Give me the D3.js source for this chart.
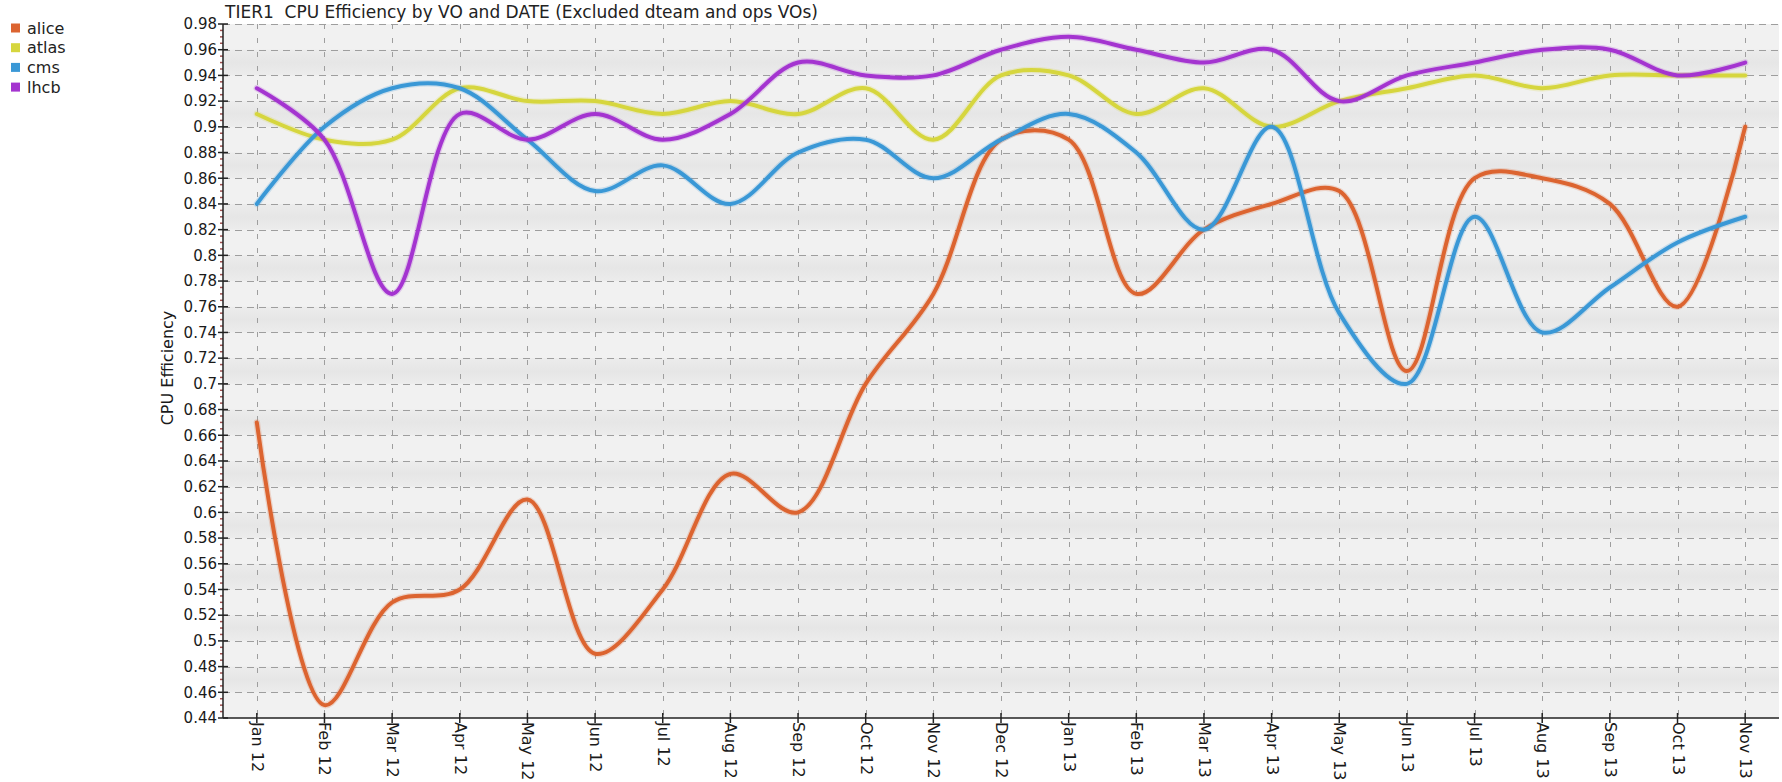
<!DOCTYPE html>
<html>
<head>
<meta charset="utf-8">
<script src="https://cdn.jsdelivr.net/npm/d3@7"></script>
<style>
  html, body { margin: 0; padding: 0; background: #ffffff; }
  svg { display: block; font-family: "DejaVu Sans", Verdana, sans-serif; }
</style>
</head>
<body>
<svg id="chart" width="1782" height="782"></svg>
<script>
// ---- data ----
const months = ["Jan 12","Feb 12","Mar 12","Apr 12","May 12","Jun 12","Jul 12","Aug 12","Sep 12","Oct 12","Nov 12","Dec 12",
                "Jan 13","Feb 13","Mar 13","Apr 13","May 13","Jun 13","Jul 13","Aug 13","Sep 13","Oct 13","Nov 13"];
const seriesNames = ["alice","atlas","cms","lhcb"];
const alice = [0.67,0.45,0.53,0.54,0.61,0.49,0.54,0.63,0.60,0.70,0.77,0.89,0.89,0.77,0.82,0.84,0.85,0.71,0.86,0.86,0.84,0.76,0.90];
const atlas = [0.91,0.89,0.89,0.93,0.92,0.92,0.91,0.92,0.91,0.93,0.89,0.94,0.94,0.91,0.93,0.90,0.92,0.93,0.94,0.93,0.94,0.94,0.94];
const cms   = [0.84,0.90,0.93,0.93,0.89,0.85,0.87,0.84,0.88,0.89,0.86,0.89,0.91,0.88,0.82,0.90,0.755,0.70,0.83,0.74,0.775,0.81,0.83];
const lhcb  = [0.93,0.89,0.77,0.91,0.89,0.91,0.89,0.91,0.95,0.94,0.94,0.96,0.97,0.96,0.95,0.96,0.92,0.94,0.95,0.96,0.96,0.94,0.95];
const yTicks = [0.44,0.46,0.48,0.5,0.52,0.54,0.56,0.58,0.6,0.62,0.64,0.66,0.68,0.7,0.72,0.74,0.76,0.78,0.8,0.82,0.84,0.86,0.88,0.9,0.92,0.94,0.96,0.98];
const colors = ["#dc6430","#d6d63e","#3a98d6","#a434d0"];
const titleText = "TIER1  CPU Efficiency by VO and DATE (Excluded dteam and ops VOs)";
const yLabel = "CPU Efficiency";

// ---- layout ----
const svg = d3.select("#chart");
const L = 223, R = 1779, T = 24, B = 718;
const x = d3.scalePoint().domain(months).range([L, R]).padding(0.5);
const y = d3.scaleLinear().domain([0.44, 0.98]).range([B, T]);

const defs = svg.append("defs");
const g1 = defs.append("linearGradient").attr("id","bandDark").attr("x1",0).attr("y1",0).attr("x2",0).attr("y2",1);
g1.append("stop").attr("offset","0%").attr("stop-color","#ececec");
g1.append("stop").attr("offset","50%").attr("stop-color","#e6e6e6");
g1.append("stop").attr("offset","100%").attr("stop-color","#ececec");

// plot background
svg.append("rect").attr("x", L).attr("y", T).attr("width", R - L).attr("height", B - T).attr("fill", "#f1f1f1");
const bands = d3.range(yTicks.length - 1);
svg.append("g").selectAll("rect").data(bands.filter(i => i % 2 === 1)).join("rect")
  .attr("x", L).attr("width", R - L)
  .attr("y", i => y(yTicks[i + 1]))
  .attr("height", i => y(yTicks[i]) - y(yTicks[i + 1]))
  .attr("fill", "url(#bandDark)");

// grid
const grid = svg.append("g").attr("stroke", "#9e9e9e").attr("stroke-width", 1).attr("fill", "none");
grid.selectAll("line.h").data(yTicks.slice(1)).join("line").attr("class","h")
  .attr("x1", L).attr("x2", R).attr("y1", d => Math.round(y(d)) + 0.5).attr("y2", d => Math.round(y(d)) + 0.5)
  .attr("stroke-dasharray", "7,5");
grid.selectAll("line.v").data(months).join("line").attr("class","v")
  .attr("y1", T).attr("y2", B).attr("x1", d => Math.round(x(d)) + 0.5).attr("x2", d => Math.round(x(d)) + 0.5)
  .attr("stroke-dasharray", "5,9");

// lines
const data = [alice, atlas, cms, lhcb];
const line = d3.line().x((d, i) => x(months[i])).y(d => y(d)).curve(d3.curveCatmullRom.alpha(0.5));
const lines = svg.append("g").attr("fill", "none").attr("stroke-linejoin", "round").attr("stroke-linecap", "round");
data.forEach((vals, k) => {
  lines.append("path").attr("d", line(vals)).attr("stroke", colors[k]).attr("stroke-opacity", 0.22).attr("stroke-width", 6.5);
  lines.append("path").attr("d", line(vals)).attr("stroke", colors[k]).attr("stroke-width", 4);
});

// y axis
const yAxis = d3.axisLeft(y).tickValues(yTicks).tickSize(0).tickPadding(6).tickFormat(d3.format("~g"));
const ya = svg.append("g").attr("transform", `translate(${L},0)`).call(yAxis);
ya.select(".domain").remove();
ya.selectAll("text").attr("font-size", 15).attr("fill", "#1a1a1a").attr("font-family", "DejaVu Sans, sans-serif");
// minor ticks
const minor = [];
for (let i = 0; i < yTicks.length - 1; i++) for (let j = 1; j <= 3; j++) minor.push(yTicks[i] + j * 0.005);
svg.append("g").selectAll("line").data(minor).join("line")
  .attr("x1", L - 3).attr("x2", L).attr("y1", d => y(d)).attr("y2", d => y(d))
  .attr("stroke", "#a05050").attr("stroke-width", 1.5);
svg.append("g").selectAll("line").data(yTicks).join("line")
  .attr("x1", L - 5).attr("x2", L + 5).attr("y1", d => y(d)).attr("y2", d => y(d))
  .attr("stroke", "#222").attr("stroke-width", 1.5);
svg.append("line").attr("x1", L).attr("x2", L).attr("y1", T).attr("y2", B).attr("stroke", "#222").attr("stroke-width", 1.5);

// x axis
svg.append("line").attr("x1", L).attr("x2", R).attr("y1", B).attr("y2", B).attr("stroke", "#222").attr("stroke-width", 1.5);
const xAxis = d3.axisBottom(x).tickSize(0).tickPadding(0);
const xa = svg.append("g").attr("transform", `translate(0,${B})`).call(xAxis);
xa.select(".domain").remove();
xa.selectAll("text")
  .attr("font-size", 16).attr("fill", "#1a1a1a").attr("font-family", "DejaVu Sans, sans-serif")
  .attr("text-anchor", "start").attr("dominant-baseline", "central")
  .attr("transform", "translate(0,4) rotate(90)").attr("dy", null).attr("y", 0);
svg.append("g").selectAll("line").data(months).join("line")
  .attr("x1", d => x(d)).attr("x2", d => x(d)).attr("y1", B - 5).attr("y2", B + 5)
  .attr("stroke", "#222").attr("stroke-width", 1.5);

// title
svg.append("text").attr("x", 225).attr("y", 18).attr("font-size", 17).attr("fill", "#222")
  .attr("xml:space", "preserve").style("white-space", "pre").text(titleText);

// y label
svg.append("text").attr("transform", `translate(173,368) rotate(-90)`).attr("text-anchor", "middle")
  .attr("font-size", 16).attr("fill", "#1a1a1a").text(yLabel);

// legend
const lg = svg.append("g");
seriesNames.forEach((n, k) => {
  const cy = 28 + k * 19.7;
  lg.append("rect").attr("x", 11).attr("y", cy - 4.5).attr("width", 9).attr("height", 9).attr("fill", colors[k]);
  lg.append("text").attr("x", 27).attr("y", cy).attr("dominant-baseline", "central")
    .attr("font-size", 16).attr("fill", "#222").text(n);
});
</script>
</body>
</html>
